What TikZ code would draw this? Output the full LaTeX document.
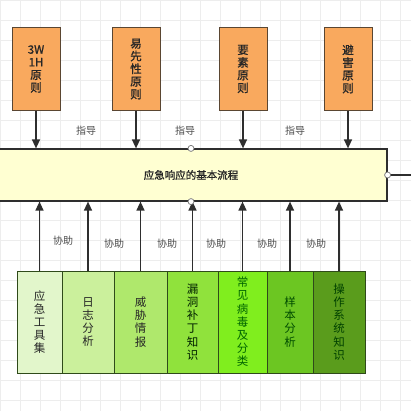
\documentclass[tikz,border=0pt]{standalone}
\usepackage{fontspec}
\setmainfont{Noto Sans CJK SC}
\newfontfamily\semib{Noto Sans CJK SC}[FakeBold=1.0]
\usetikzlibrary{arrows.meta}
\definecolor{orangefill}{HTML}{F9A95E}
\definecolor{orangeline}{HTML}{5A4632}
\definecolor{mainfill}{HTML}{FFFFD2}
\definecolor{lineclr}{HTML}{2E2E2E}
\definecolor{gridclr}{HTML}{EDEDED}
\definecolor{gA}{HTML}{E2F6CB}
\definecolor{gB}{HTML}{CBF09C}
\definecolor{gC}{HTML}{AFE86C}
\definecolor{gD}{HTML}{90E23C}
\definecolor{gE}{HTML}{80EE1E}
\definecolor{gF}{HTML}{6CC622}
\definecolor{gG}{HTML}{5A9C1C}
\definecolor{boxline}{HTML}{2F4A1A}
\begin{document}
\begin{tikzpicture}[x=1pt,y=-1pt,
  topbox/.style={draw=orangeline,line width=1pt,fill=orangefill,minimum width=48pt,minimum height=83pt,
    align=center,inner sep=0pt,font=\semib\fontsize{11.5pt}{12.7pt}\selectfont,text=black!85},
  botbox/.style={draw=boxline,line width=1pt,minimum height=102pt,inner sep=0pt,
    align=center,font=\fontsize{11.5pt}{13.2pt}\selectfont},
  arr/.style={draw=lineclr,line width=1.4pt,-{Triangle[length=9pt,width=8pt]}},
  lbl/.style={font=\fontsize{10pt}{12pt}\selectfont,text=black!70},
  port/.style={circle,draw=black!55,fill=white,line width=0.7pt,minimum size=6pt,inner sep=0pt}]
\useasboundingbox (0,0) rectangle (411,411);
\clip (0,0) rectangle (411,411);
\fill[white] (0,0) rectangle (411,411);
\foreach \g in {0,20,...,400} {
  \draw[gridclr,line width=0.6pt] (\g,0) -- (\g,411);
  \draw[gridclr,line width=0.6pt] (0,\g) -- (411,\g);
}
% top boxes
\node[topbox] (t1) at (36,69) {3W\\1H\\原\\则};
\node[topbox] (t2) at (136,69) {易\\先\\性\\原\\则};
\node[topbox] (t3) at (243,69) {要\\素\\原\\则};
\node[topbox] (t4) at (348,69) {避\\害\\原\\则};
% main box
\node[draw=lineclr,line width=1.2pt,fill=mainfill,minimum width=392pt,minimum height=52pt,inner sep=0pt,
  font=\semib\fontsize{10.5pt}{12pt}\selectfont,text=black!85] (main) at (191,175) {应急响应的基本流程};
% guidance arrows
\foreach \i in {1,2,3,4} {
  \draw[arr] (t\i.south) -- (t\i.south |- main.north);
}
\node[lbl] (g1) at (86,131) {指导};
\node[lbl] (g2) at (185,131) {指导};
\node[lbl] (g3) at (295,131) {指导};
% bottom boxes
\node[botbox,fill=gA,minimum width=45pt,text=black!85] (b1) at (39.5,322) {应\\急\\工\\具\\集};
\node[botbox,fill=gB,minimum width=52pt,text=black!85] (b2) at (88,322) {日\\志\\分\\析};
\node[botbox,fill=gC,minimum width=53pt,text=black!85] (b3) at (140.5,322) {威\\胁\\情\\报};
\node[botbox,fill=gD,minimum width=51pt,text=black!80!green!60!black] (b4) at (192.5,322) {漏\\洞\\补\\丁\\知\\识};
\node[botbox,fill=gE,minimum width=49pt,text=green!40!black] (b5) at (242.5,322) {常\\见\\病\\毒\\及\\分\\类};
\node[botbox,fill=gF,minimum width=46pt,text=green!30!black] (b6) at (290,322) {样\\本\\分\\析};
\node[botbox,fill=gG,minimum width=52pt,text=green!25!black] (b7) at (339,322) {操\\作\\系\\统\\知\\识};
% assist arrows
\foreach \i in {1,...,7} {
  \draw[arr] (b\i.north) -- (b\i.north |- main.south);
}
\node[lbl] (h1) at (63,241) {协助};
\node[lbl] (h2) at (114,244) {协助};
\node[lbl] (h3) at (167,244) {协助};
\node[lbl] (h4) at (216,244) {协助};
\node[lbl] (h5) at (267,244) {协助};
\node[lbl] (h6) at (316,244) {协助};
% right output line
\coordinate (out) at (411,175);
\draw[draw=lineclr,line width=1.2pt] (main.east) -- (out);
\node[port] (p1) at (main.north) {};
\node[port] (p2) at (main.south) {};
\node[port] (p3) at (main.east) {};
\end{tikzpicture}
\end{document}
